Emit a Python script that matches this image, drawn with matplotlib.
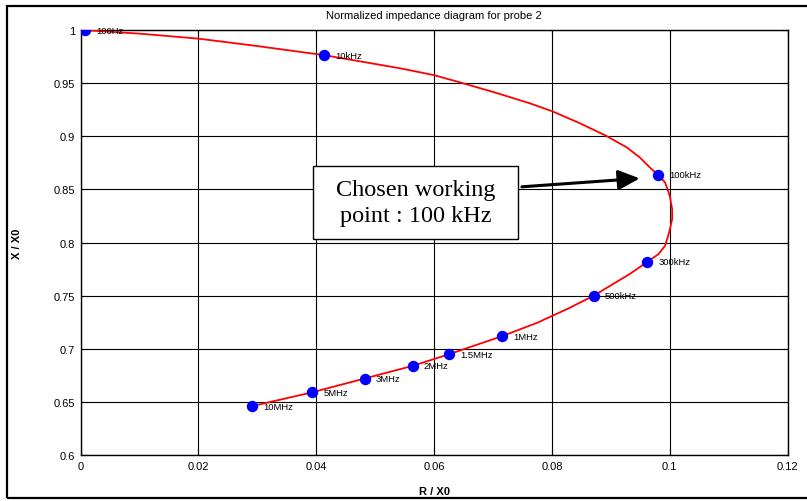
import matplotlib.pyplot as plt
from matplotlib.patches import Rectangle

# frequency points on the diagram
freq_labels = ['100Hz', '10kHz', '100kHz', '300kHz', '500kHz', '1MHz',
               '1.5MHz', '2MHz', '3MHz', '5MHz', '10MHz']
r_pts = [0.0008, 0.0413, 0.0980, 0.0962, 0.0871, 0.0716,
         0.0626, 0.0564, 0.0482, 0.0393, 0.0291]
x_pts = [1.0, 0.9765, 0.8638, 0.7819, 0.750, 0.712,
         0.695, 0.684, 0.672, 0.659, 0.646]

# impedance curve
r_curve = [0.0008, 0.01, 0.02, 0.03, 0.0413, 0.0543, 0.06, 0.0644, 0.0705,
           0.0763, 0.0801, 0.0848, 0.0892, 0.0927, 0.0949, 0.0966, 0.0980,
           0.0992, 0.1000, 0.1004, 0.1004, 0.0999, 0.0992, 0.0981, 0.0962,
           0.0932, 0.0899, 0.0871, 0.0828, 0.0775, 0.0716, 0.0626, 0.0564,
           0.0482, 0.0393, 0.0291]
x_curve = [1.0, 0.9967, 0.992, 0.985, 0.9765, 0.964, 0.9576, 0.9508, 0.941,
           0.931, 0.9235, 0.9122, 0.9005, 0.8896, 0.8802, 0.8708, 0.8638,
           0.8567, 0.844, 0.8315, 0.8221, 0.8096, 0.797, 0.7892, 0.7819,
           0.7704, 0.7594, 0.750, 0.738, 0.7245, 0.712, 0.695, 0.684,
           0.672, 0.659, 0.646]

xticks = [0, 0.02, 0.04, 0.06, 0.08, 0.1, 0.12]
xtick_labels = ['0', '0.02', '0.04', '0.06', '0.08', '0.1', '0.12']
yticks = [0.6, 0.65, 0.7, 0.75, 0.8, 0.85, 0.9, 0.95, 1]
ytick_labels = ['0.6', '0.65', '0.7', '0.75', '0.8', '0.85', '0.9', '0.95', '1']

plt.rcParams['font.family'] = ['Liberation Sans', 'DejaVu Sans']

fig = plt.figure(figsize=(8.07, 5.02), dpi=100)
ax = fig.add_axes([0.0998, 0.0916, 0.8762, 0.8464])

ax.plot(r_curve, x_curve, color='red', lw=1.3, zorder=3)
ax.plot(r_pts, x_pts, 'o', color='blue', markersize=7.2, zorder=4)
for lab, r, x in zip(freq_labels, r_pts, x_pts):
    ax.annotate(lab, (r, x), xytext=(8, 0), textcoords='offset points',
                fontsize=6.8, va='center', ha='left', annotation_clip=False,
                zorder=5)

ax.set_xlim(0, 0.12)
ax.set_ylim(0.6, 1)
ax.set_xticks(xticks)
ax.set_xticklabels(xtick_labels)
ax.set_yticks(yticks)
ax.set_yticklabels(ytick_labels)
ax.tick_params(direction='in', labelsize=8, length=4, width=0.8, pad=4,
               top=True, right=True)
ax.grid(True, color='black', lw=0.8, ls='-')
for s in ax.spines.values():
    s.set_linewidth(1.0)

ax.set_title('Normalized impedance diagram for probe 2', fontsize=8, pad=9)
ax.set_xlabel('R / X0', fontsize=8, fontweight='bold', labelpad=11)
ax.set_ylabel('X / X0', fontsize=8, fontweight='bold', labelpad=23)

# callout box with arrow
ax.annotate('', xy=(0.0949, 0.8604), xytext=(0.0749, 0.8525),
            arrowprops=dict(arrowstyle='-|>,head_length=1.3,head_width=0.6',
                            color='black', lw=2.2, shrinkA=0, shrinkB=0),
            zorder=6)
ax.add_patch(Rectangle((0.0395, 0.8033), 0.0348, 0.069, fc='white',
                       ec='black', lw=1.0, zorder=7))
ax.text(0.0569, 0.8378, 'Chosen working\npoint : 100 kHz',
        family='Liberation Serif', fontsize=17.5, ha='center', va='center',
        linespacing=1.3, zorder=8)

# outer frame around the figure
fig.patches.append(Rectangle((7 / 807, 3 / 502), 1.2, 492 / 502,
                             transform=fig.transFigure, fill=False,
                             ec='black', lw=1.6))

fig.savefig('out.png', dpi=100)
